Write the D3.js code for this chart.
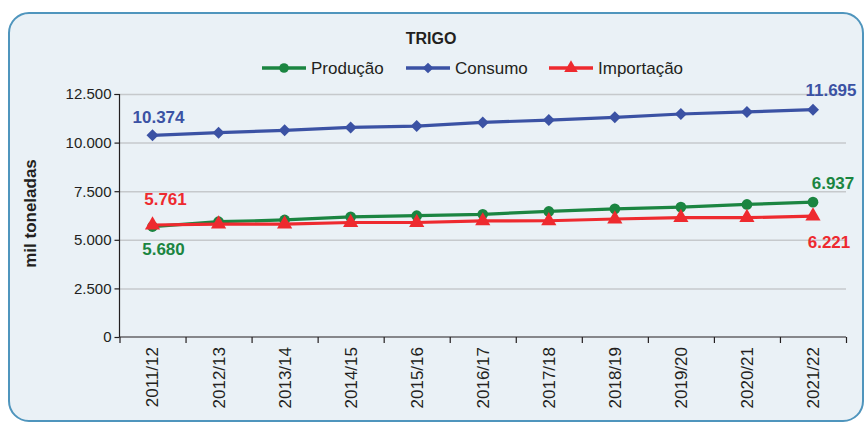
<!DOCTYPE html>
<html>
<head>
<meta charset="utf-8">
<script src="https://cdn.jsdelivr.net/npm/d3@7"></script>
<style>
  body { margin:0; background:#fff; }
  svg text { font-family: "Liberation Sans", Arial, sans-serif; }
</style>
</head>
<body>
<div id="canvas"></div>
<script>
// data (mil toneladas)
var safras = ["2011/12","2012/13","2013/14","2014/15","2015/16","2016/17","2017/18","2018/19","2019/20","2020/21","2021/22"];
var producao   = [5680, 5930, 6020, 6180, 6240, 6310, 6460, 6590, 6680, 6820, 6937];
var consumo    = [10374, 10510, 10630, 10780, 10850, 11040, 11160, 11300, 11470, 11580, 11695];
var importacao = [5761, 5810, 5810, 5890, 5890, 5970, 5980, 6070, 6140, 6140, 6221];
var yTicks = [0, 2500, 5000, 7500, 10000, 12500];

var W = 865, H = 423;
var m = {t:94, r:19, b:86, l:119.5};
var w = W - m.l - m.r, h = H - m.t - m.b;

var green = "#1b8541", blue = "#3b52a4", red = "#ee2a2f";

var svg = d3.select('#canvas').append('svg')
    .attr('width', W).attr('height', H);

// panel
svg.append('rect')
    .attr('x', 9).attr('y', 13).attr('width', 854).attr('height', 408)
    .attr('rx', 20).attr('ry', 20)
    .style('fill', '#eaf1f6').style('stroke', '#4f95bd').style('stroke-width', 2);

var pt = d3.formatLocale({decimal:",", thousands:".", grouping:[3], currency:["R$",""]}).format(",d");

var x = d3.scaleBand().domain(safras).range([0, w]);
var xEdge = d3.scaleLinear().domain([0, safras.length]).range([0, w]);
var y = d3.scaleLinear().domain([0, 12500]).range([h, 0]);
var cx = function(i){ return x(safras[i]) + x.bandwidth()/2; };

var plot = svg.append('g').attr('transform', 'translate(' + m.l + ',' + m.t + ')');

// grid
plot.append('g').attr('class','grid')
    .call(d3.axisLeft(y).tickValues(yTicks.slice(1)).tickSize(-w).tickFormat(''))
    .call(function(g){
        g.select('.domain').remove();
        g.selectAll('line').style('stroke', '#c6c9cc').style('stroke-width', 1.5);
    });

// y axis
plot.append('g').attr('class','axis axis-y')
    .call(d3.axisLeft(y).tickValues(yTicks).tickSize(5).tickPadding(3).tickFormat(pt))
    .call(function(g){
        g.select('.domain').attr('d', 'M-5,0.5H0V' + h);
        g.selectAll('text').style('font-size', '15px').style('fill', '#231f20');
        g.selectAll('line, path').style('stroke', '#231f20').style('stroke-width', 1.2);
    });

// x axis: boundary ticks
plot.append('g').attr('class','axis axis-x')
    .attr('transform', 'translate(0,' + h + ')')
    .call(d3.axisBottom(xEdge).ticks(safras.length).tickSize(6).tickFormat(''))
    .call(function(g){
        g.select('.domain').attr('d', 'M0,0H' + w);
        g.selectAll('line, path').style('stroke', '#231f20').style('stroke-width', 1.2);
    });

// x labels
plot.append('g')
    .attr('transform', 'translate(0,' + h + ')')
    .call(d3.axisBottom(x).tickSize(0))
    .call(function(g){
        g.select('.domain').remove();
        g.selectAll('text')
            .attr('transform', 'rotate(-90)')
            .attr('x', -10).attr('y', 0).attr('dy', '0.35em')
            .style('text-anchor', 'end')
            .style('font-size', '17px').style('fill', '#231f20');
    });

// y title
svg.append('text')
    .attr('transform', 'translate(36,' + (m.t + h/2 - 2) + ') rotate(-90)')
    .style('text-anchor', 'middle').style('font-size', '17px').style('font-weight', 'bold')
    .style('fill', '#231f20')
    .text('mil toneladas');

// title
svg.append('text')
    .attr('x', 431).attr('y', 44)
    .style('text-anchor', 'middle').style('font-size', '16px').style('font-weight', 'bold')
    .style('fill', '#231f20')
    .text('TRIGO');

var series = [
    {name:'Produção', values:producao, color:green, shape:d3.symbolCircle, size:90, rot:0},
    {name:'Consumo', values:consumo, color:blue, shape:d3.symbolSquare, size:72, rot:45},
    {name:'Importação', values:importacao, color:red, shape:d3.symbolTriangle, size:100, rot:0}
];

var line = d3.line().x(function(d,i){ return cx(i); }).y(function(d){ return y(d); });

// draw consumo, producao, then importacao on top
[series[1], series[0], series[2]].forEach(function(s){
    plot.append('path').datum(s.values)
        .attr('d', line)
        .style('fill', 'none').style('stroke', s.color).style('stroke-width', 3.2);
    plot.selectAll(null).data(s.values).enter().append('path')
        .attr('transform', function(d,i){ return 'translate(' + cx(i) + ',' + y(d) + ') rotate(' + s.rot + ')'; })
        .attr('d', d3.symbol().type(s.shape).size(s.size))
        .style('fill', s.color);
});

// data labels (first and last)
function label(s, i, dx, dy){
    plot.append('text')
        .attr('x', cx(i) + dx).attr('y', y(s.values[i]) + dy)
        .style('text-anchor', 'middle').style('font-size', '17px').style('font-weight', 'bold')
        .style('fill', s.color)
        .text(pt(s.values[i]));
}
label(series[1], 0, 6, -12);
label(series[1], 10, 18, -14);
label(series[2], 0, 13, -20);
label(series[0], 0, 11, 28);
label(series[0], 10, 20, -13);
label(series[2], 10, 16, 32);

// legend
var lg = svg.append('g').attr('transform', 'translate(0,68)');
var lx = [262, 406, 549];
series.forEach(function(s, k){
    lg.append('line').attr('x1', lx[k]).attr('x2', lx[k] + 44)
        .style('stroke', s.color).style('stroke-width', 3.5);
    lg.append('path').attr('transform', 'translate(' + (lx[k] + 22) + ',0) rotate(' + s.rot + ')')
        .attr('d', d3.symbol().type(s.shape).size(s.size * 0.8))
        .style('fill', s.color);
    lg.append('text').attr('x', lx[k] + 49).attr('y', 0).attr('dy', '0.35em')
        .style('font-size', '17px').style('fill', '#231f20')
        .text(s.name);
});
</script>
</body>
</html>
